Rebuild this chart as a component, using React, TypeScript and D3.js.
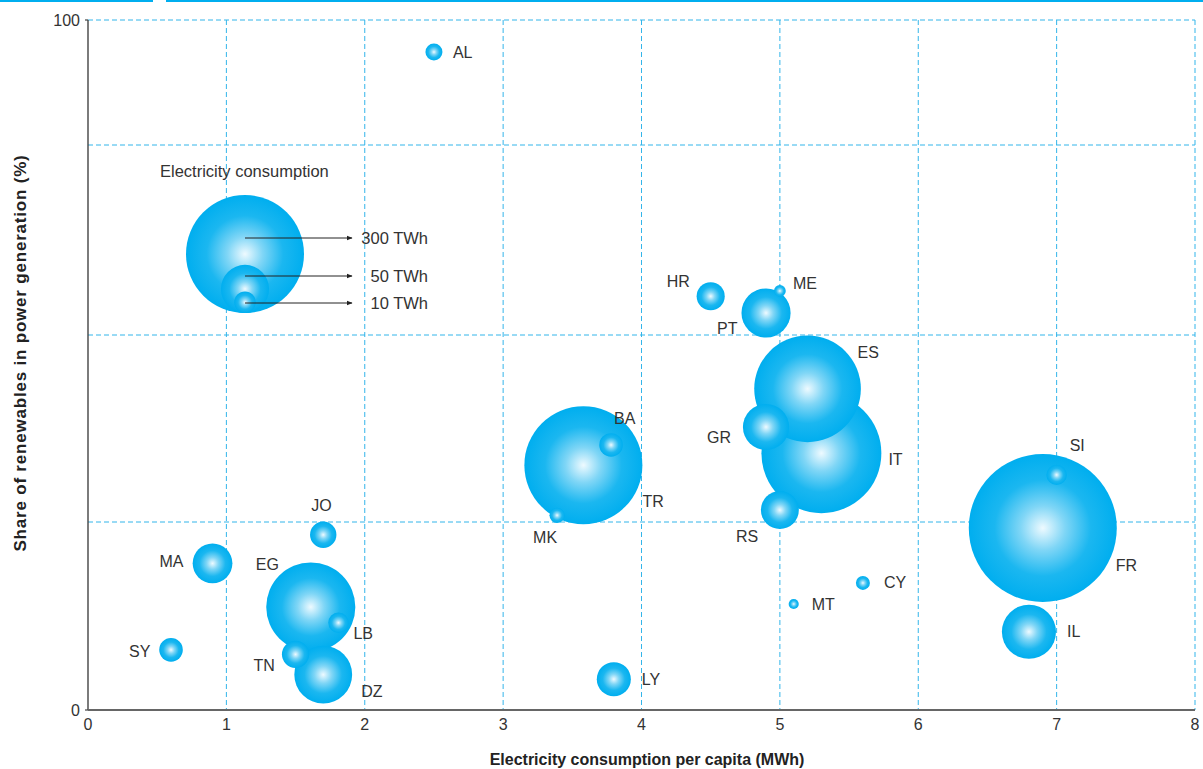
import { useEffect, useRef } from 'react';
import * as d3 from 'd3';

// bubble data
const countries = ['AL', 'HR', 'ME', 'PT', 'ES', 'IT', 'GR', 'RS', 'TR', 'BA', 'MK', 'SI', 'FR', 'IL', 'CY', 'MT', 'LY', 'JO', 'MA', 'EG', 'LB', 'TN', 'DZ', 'SY'];
const perCapitaMWh = [2.5, 4.5, 5.0, 4.9, 5.2, 5.3, 4.9, 5.0, 3.58, 3.78, 3.39, 7.0, 6.9, 6.8, 5.6, 5.1, 3.8, 1.7, 0.9, 1.61, 1.81, 1.5, 1.7, 0.6];
const renewableShare = [93.6, 55.1, 55.8, 52.9, 42.8, 34.2, 37.7, 26.6, 32.6, 35.3, 25.9, 31.3, 24.2, 10.4, 16.9, 14.1, 4.1, 23.3, 19.5, 13.7, 11.6, 7.4, 4.7, 8.0];
const consumptionTWh = [6.2, 17, 3, 52, 245, 310, 46, 31, 300, 12, 5, 9, 472, 63, 4.2, 2.2, 25, 15, 34, 171, 9, 16, 72, 12];

const xTicks = [0, 1, 2, 3, 4, 5, 6, 7, 8];
const yGrid = [0, 25, 50, 75, 100];
const yLabels = [0, 100];

const legendValues = [300, 50, 10];
const legendLabels = ['300 TWh', '50 TWh', '10 TWh'];

// label placement relative to bubble centre (layout only)
const labelOffset: Record<string, [number, number]> = {
  AL: [19, 0], HR: [-44, -15], ME: [13, -8], PT: [-49, 15], ES: [50, -36], IT: [67, 6],
  GR: [-59, 10], RS: [-44, 26], TR: [59, 36], BA: [3, -27], MK: [-24, 22], SI: [13, -29],
  FR: [73, 37], IL: [38, 0], CY: [21, -1], MT: [18, 0], LY: [28, 0], JO: [-12, -29],
  MA: [-53, -2], EG: [-55, -43], LB: [15, 11], TN: [-42, 11], DZ: [38, 17], SY: [-42, 2],
};

const W = 1203;
const H = 769;
const font = '"Liberation Sans", Arial, Helvetica, sans-serif';
const cyan = '#00aeef';
const gridColor = '#33b5ea';

export default function App() {
  const svgRef = useRef<SVGSVGElement>(null);

  useEffect(() => {
    if (!svgRef.current) return;
    document.body.style.margin = '0';

    const svg = d3.select(svgRef.current);
    svg.selectAll('*').remove();
    svg.attr('width', W).attr('height', H).style('font-family', font).style('display', 'block');

    const left = 88, right = 1195;
    const x = d3.scaleLinear().domain([0, 8]).range([left, right]);
    // grid rows in the original are not evenly spaced
    const y = d3.scaleLinear().domain(yGrid).range([710, 522, 335, 145, 20]);
    const r = d3.scaleSqrt().domain([0, 300]).range([0, 59]);

    const defs = svg.append('defs');
    const grad = defs.append('radialGradient').attr('id', 'bubble').attr('cx', '50%').attr('cy', '50%').attr('r', '50%');
    grad.append('stop').attr('offset', '0%').attr('stop-color', '#eefaff');
    grad.append('stop').attr('offset', '30%').attr('stop-color', '#80d6f6');
    grad.append('stop').attr('offset', '65%').attr('stop-color', '#1bb7f0');
    grad.append('stop').attr('offset', '100%').attr('stop-color', cyan);

    defs.append('marker')
      .attr('id', 'arrow').attr('viewBox', '0 0 10 10').attr('refX', 9).attr('refY', 5)
      .attr('markerWidth', 6).attr('markerHeight', 6).attr('orient', 'auto')
      .append('path').attr('d', 'M0,1L10,5L0,9Z').attr('fill', '#222');

    // top rule
    svg.append('line').attr('x1', 0).attr('x2', 153).attr('y1', 1).attr('y2', 1)
      .attr('stroke', cyan).attr('stroke-width', 2);
    svg.append('line').attr('x1', 166).attr('x2', W).attr('y1', 1).attr('y2', 1)
      .attr('stroke', cyan).attr('stroke-width', 2);

    // grid
    const g = svg.append('g');
    g.selectAll('.vgrid').data(xTicks.slice(1)).enter().append('line')
      .attr('x1', d => x(d)).attr('x2', d => x(d)).attr('y1', y(100)).attr('y2', y(0))
      .attr('stroke', gridColor).attr('stroke-width', 1).attr('stroke-dasharray', '5,3');
    g.selectAll('.hgrid').data(yGrid.slice(1)).enter().append('line')
      .attr('x1', left).attr('x2', right).attr('y1', d => y(d)).attr('y2', d => y(d))
      .attr('stroke', gridColor).attr('stroke-width', 1).attr('stroke-dasharray', '5,3');

    // axes
    g.append('line').attr('x1', left).attr('x2', left).attr('y1', y(100)).attr('y2', y(0))
      .attr('stroke', '#444').attr('stroke-width', 1.4);
    g.append('line').attr('x1', left).attr('x2', right).attr('y1', y(0)).attr('y2', y(0))
      .attr('stroke', '#666').attr('stroke-width', 1.8);
    g.selectAll('.ytick').data(yLabels).enter().append('line')
      .attr('x1', left - 3).attr('x2', left).attr('y1', d => y(d)).attr('y2', d => y(d))
      .attr('stroke', '#444').attr('stroke-width', 1.2);
    g.selectAll('.ylab').data(yLabels).enter().append('text')
      .attr('x', left - 8).attr('y', d => y(d)).attr('dy', '0.35em')
      .attr('text-anchor', 'end').attr('fill', '#333').style('font-size', '16px')
      .text(d => d);
    g.selectAll('.xlab').data(xTicks).enter().append('text')
      .attr('x', d => x(d)).attr('y', y(0) + 20)
      .attr('text-anchor', 'middle').attr('fill', '#333').style('font-size', '16px')
      .text(d => d);

    // axis titles
    svg.append('text').attr('x', 647).attr('y', 765).attr('text-anchor', 'middle')
      .attr('fill', '#222').style('font-size', '16px').style('font-weight', 'bold')
      .text('Electricity consumption per capita (MWh)');
    svg.append('text').attr('transform', 'translate(26,353) rotate(-90)').attr('text-anchor', 'middle')
      .attr('fill', '#222').style('font-size', '17px').style('font-weight', 'bold')
      .style('letter-spacing', '0.8px')
      .text('Share of renewables in power generation (%)');

    // bubbles, largest first
    const rows = countries.map((c, i) => ({
      code: c, x: perCapitaMWh[i], y: renewableShare[i], v: consumptionTWh[i],
    }));
    const sorted = [...rows].sort((a, b) => b.v - a.v);

    svg.append('g').selectAll('circle').data(sorted).enter().append('circle')
      .attr('cx', d => x(d.x)).attr('cy', d => y(d.y)).attr('r', d => r(d.v))
      .attr('fill', 'url(#bubble)');

    svg.append('g').selectAll('text').data(rows).enter().append('text')
      .attr('x', d => x(d.x) + labelOffset[d.code][0])
      .attr('y', d => y(d.y) + labelOffset[d.code][1])
      .attr('dy', '0.35em').attr('fill', '#333').style('font-size', '16px')
      .text(d => d.code);

    // size legend
    const lg = svg.append('g');
    const lcx = 245, lBottom = 313;
    lg.append('text').attr('x', 160).attr('y', 177).attr('fill', '#333').style('font-size', '16.5px')
      .text('Electricity consumption');
    lg.selectAll('circle').data(legendValues).enter().append('circle')
      .attr('cx', lcx).attr('cy', d => lBottom - r(d)).attr('r', d => r(d))
      .attr('fill', 'url(#bubble)');
    const rowY = [238, 276, 303];
    lg.selectAll('.arr').data(legendValues).enter().append('line')
      .attr('x1', lcx).attr('x2', 352).attr('y1', (_, i) => rowY[i]).attr('y2', (_, i) => rowY[i])
      .attr('stroke', '#222').attr('stroke-width', 1).attr('marker-end', 'url(#arrow)');
    lg.selectAll('.lab').data(legendLabels).enter().append('text')
      .attr('x', 428).attr('y', (_, i) => rowY[i]).attr('dy', '0.35em')
      .attr('text-anchor', 'end').attr('fill', '#333').style('font-size', '16.5px')
      .text(d => d);
  }, []);

  return <svg ref={svgRef}></svg>;
}
